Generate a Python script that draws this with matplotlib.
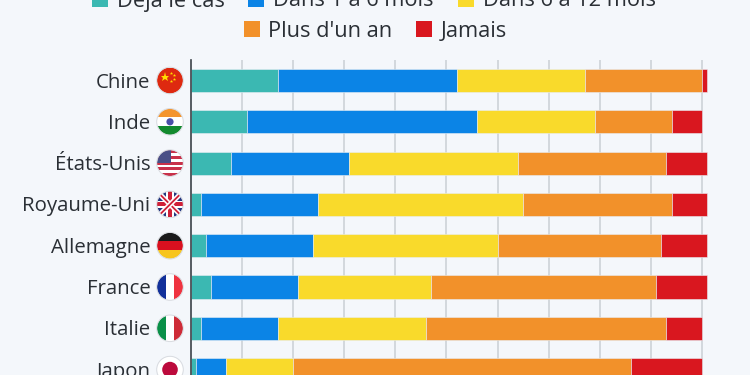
import numpy as np
import matplotlib
matplotlib.use('Agg')
import matplotlib.pyplot as plt
from matplotlib.patches import Circle, Rectangle

countries = ['Chine', 'Inde', 'États-Unis', 'Royaume-Uni', 'Allemagne', 'France', 'Italie', 'Japon']
deja = [17, 11, 8, 2, 3, 4, 2, 1]
un_six = [35, 45, 23, 23, 21, 17, 15, 6]
six_douze = [25, 23, 33, 40, 36, 26, 29, 13]
plus_an = [23, 15, 29, 29, 32, 44, 47, 66]
jamais = [1, 6, 8, 7, 9, 10, 7, 14]

series = [deja, un_six, six_douze, plus_an, jamais]
labels = ['Déjà le cas', 'Dans 1 à 6 mois', 'Dans 6 à 12 mois', "Plus d'un an", 'Jamais']
colors = ['#3bb8b2', '#0b84e6', '#f9da2b', '#f2912a', '#d9171f']
BG = '#f4f7fb'

plt.rcParams['font.family'] = ['Open Sans', 'DejaVu Sans']

fig = plt.figure(figsize=(7.5, 3.75), dpi=100, facecolor=BG)

# main axes, placed in pixels
left, right, top, bottom = 190.5, 710.0, 60.0, 375.0
ax = fig.add_axes([left / 750, 1 - bottom / 375, (right - left) / 750, (bottom - top) / 375])
ax.set_facecolor(BG)
px_per_pct = 5.118
row = 41.3
ax.set_xlim(0, (right - left) / px_per_pct)
ax.set_ylim((bottom - 80.5) / row, (top - 80.5) / row)

y = np.arange(len(countries))
start = np.zeros(len(countries))
for vals, c in zip(series, colors):
    ax.barh(y, vals, left=start, height=0.56, color=c, edgecolor='#e9eef4', linewidth=0.4, zorder=3)
    start = start + np.array(vals)

ax.set_xticks(np.arange(10, 101, 10))
ax.grid(axis='x', color='#cdd2d8', linewidth=1.2, zorder=0)
ax.tick_params(left=False, bottom=False, labelleft=False, labelbottom=False)
for s in ['top', 'right', 'bottom']:
    ax.spines[s].set_visible(False)
ax.spines['left'].set_color('#3a4148')
ax.spines['left'].set_linewidth(1.2)
ax.spines['left'].set_zorder(5)

# overlay in pixel coordinates for legend, names and flags
ov = fig.add_axes([0, 0, 1, 1], facecolor='none')
ov.set_xlim(0, 750)
ov.set_ylim(375, 0)
ov.axis('off')

legend_pos = [(92, -1.5), (248, -1.5), (458, -1.5), (243.5, 29), (416, 29)]
for (lx, ly), lab, c in zip(legend_pos, labels, colors):
    ov.add_patch(Rectangle((lx, ly - 8), 16, 16, color=c, lw=0))
    ov.text(lx + 25, ly + 8, lab, fontsize=15.7, color='#2a2f35', va='baseline', ha='left')


def flag_china(cx, cy, r, clip):
    clip(Rectangle((cx - r, cy - r), 2 * r, 2 * r, color='#de2910', lw=0))
    ov.plot([cx - 5.5], [cy - 4], marker='*', ms=6.5, color='#ffde00', mew=0)
    for dx, dy in [(1, -8), (3.5, -5.5), (3.5, -2), (1, 0.5)]:
        ov.plot([cx + dx], [cy + dy], marker='*', ms=2.5, color='#ffde00', mew=0)


def stripes_h(cx, cy, r, clip, cols):
    h = 2 * r / len(cols)
    for i, c in enumerate(cols):
        clip(Rectangle((cx - r, cy - r + i * h), 2 * r, h, color=c, lw=0))


def stripes_v(cx, cy, r, clip, cols):
    w = 2 * r / len(cols)
    for i, c in enumerate(cols):
        clip(Rectangle((cx - r + i * w, cy - r), w, 2 * r, color=c, lw=0))


def flag_india(cx, cy, r, clip):
    stripes_h(cx, cy, r, clip, ['#f4952f', '#ffffff', '#138a2e'])
    clip(Circle((cx, cy), 3.6, color='#4a4fa8', lw=0))


def flag_usa(cx, cy, r, clip):
    cols = ['#c8314a', '#ffffff'] * 4 + ['#c8314a']
    stripes_h(cx, cy, r, clip, cols)
    clip(Rectangle((cx - r, cy - r), r * 1.05, r * 0.98, color='#4a4f86', lw=0))


def flag_uk(cx, cy, r, clip):
    clip(Rectangle((cx - r, cy - r), 2 * r, 2 * r, color='#24377f', lw=0))
    for a, b in [(1, 1), (1, -1)]:
        pts = [(cx - a * r, cy - b * r), (cx + a * r, cy + b * r)]
        p = ov.plot(*zip(*pts), color='white', lw=3.6, solid_capstyle='butt')[0]
        clip(p)
        p = ov.plot(*zip(*pts), color='#cf2038', lw=1.3, solid_capstyle='butt')[0]
        clip(p)
    clip(Rectangle((cx - r, cy - 3.6), 2 * r, 7.2, color='white', lw=0))
    clip(Rectangle((cx - 3.6, cy - r), 7.2, 2 * r, color='white', lw=0))
    clip(Rectangle((cx - r, cy - 2.1), 2 * r, 4.2, color='#cf2038', lw=0))
    clip(Rectangle((cx - 2.1, cy - r), 4.2, 2 * r, color='#cf2038', lw=0))


def flag_germany(cx, cy, r, clip):
    stripes_h(cx, cy, r, clip, ['#1a1a1a', '#d9101f', '#f7c51e'])


def flag_france(cx, cy, r, clip):
    stripes_v(cx, cy, r, clip, ['#12309a', '#ffffff', '#ef3340'])


def flag_italy(cx, cy, r, clip):
    stripes_v(cx, cy, r, clip, ['#0a9048', '#ffffff', '#ce2b37'])


def flag_japan(cx, cy, r, clip):
    clip(Rectangle((cx - r, cy - r), 2 * r, 2 * r, color='#ffffff', lw=0))
    clip(Circle((cx, cy), 7.8, color='#bc0a3c', lw=0))


flags = [flag_china, flag_india, flag_usa, flag_uk, flag_germany, flag_france, flag_italy, flag_japan]

flag_x, flag_r = 170.0, 13.0
for i, (name, fl) in enumerate(zip(countries, flags)):
    cy = 80.5 + i * row
    ov.text(150.5, cy + 7, name, fontsize=14.7, color='#2a2f35', ha='right', va='baseline')
    circ = Circle((flag_x, cy), flag_r, transform=ov.transData, fc='none', ec='none')
    ov.add_patch(circ)

    def clip(artist, circ=circ):
        if artist not in ov.lines:
            ov.add_patch(artist)
        artist.set_clip_path(circ)

    fl(flag_x, cy, flag_r, clip)
    ov.add_patch(Circle((flag_x, cy), flag_r + 0.3, fc='none', ec='#d8dbe0', lw=0.7))

fig.savefig('out.png', dpi=100, facecolor=BG)
